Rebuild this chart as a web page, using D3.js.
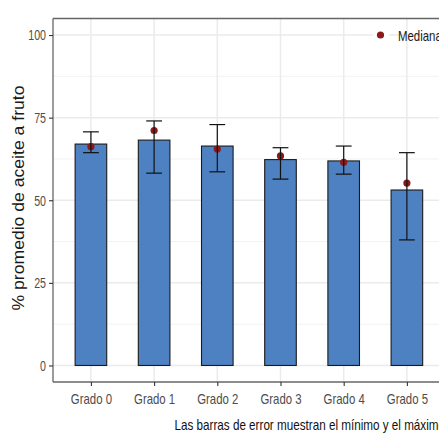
<!DOCTYPE html>
<html><head><meta charset="utf-8">
<script src="https://cdn.jsdelivr.net/npm/d3@7"></script>
<style>body{margin:0;background:#fff}svg{display:block}</style>
</head><body>
<script>
const categories = ["Grado 0","Grado 1","Grado 2","Grado 3","Grado 4","Grado 5"];
const means   = [67.0, 68.2, 66.4, 62.3, 61.9, 53.1];
const mins    = [64.4, 58.2, 58.6, 56.4, 57.9, 38.0];
const maxs    = [70.7, 74.0, 72.9, 65.9, 66.4, 64.4];
const medians = [66.2, 71.1, 65.5, 63.4, 61.5, 55.2];
const yTicks  = [0, 25, 50, 75, 100];
const yMinor  = [12.5, 37.5, 62.5, 87.5];
const legendLabel = "Mediana";
const yTitle = "% promedio de aceite a fruto";
const caption = "Las barras de error muestran el mínimo y el máximo";

const W = 439, H = 435;
const L = 53, R = 444.8, T = 18.5, B = 382;
const sans = "'Liberation Sans',Arial,sans-serif";

const svg = d3.select("body").append("svg").attr("width", W).attr("height", H);

function narrow(sel, f) {
  sel.each(function() {
    const w = this.getComputedTextLength();
    d3.select(this).attr("textLength", w * f).attr("lengthAdjust", "spacingAndGlyphs");
  });
}

const x = d3.scalePoint().domain(categories).range([L, R]).padding(0.6);
const step = x.step();
const y = d3.scaleLinear().domain([-5, 105]).range([B, T]);

const data = categories.map((c, i) => ({c, mean: means[i], min: mins[i], max: maxs[i], med: medians[i]}));

const g = svg.append("g");
g.selectAll(".minor").data(yMinor).join("line")
  .attr("x1", L).attr("x2", R).attr("y1", d => y(d)).attr("y2", d => y(d))
  .attr("stroke", "#f2f2f2").attr("stroke-width", 1);
g.selectAll(".major").data(yTicks).join("line")
  .attr("x1", L).attr("x2", R).attr("y1", d => y(d)).attr("y2", d => y(d))
  .attr("stroke", "#ebebeb").attr("stroke-width", 1.5);
g.selectAll(".vgrid").data(categories).join("line")
  .attr("x1", d => x(d)).attr("x2", d => x(d)).attr("y1", T).attr("y2", B)
  .attr("stroke", "#ebebeb").attr("stroke-width", 1.5);

const bw = step * 0.5;
g.selectAll(".bar").data(data).join("rect")
  .attr("x", d => x(d.c) - bw / 2).attr("width", bw)
  .attr("y", d => y(d.mean)).attr("height", d => y(0) - y(d.mean))
  .attr("fill", "#4e81c1").attr("stroke", "#1a1a1a").attr("stroke-width", 1.1);

g.selectAll(".med").data(data).join("circle")
  .attr("cx", d => x(d.c)).attr("cy", d => y(d.med)).attr("r", 3.6)
  .attr("fill", "#8b1a1a");

const cw = step * 0.25;
const eb = g.selectAll(".eb").data(data).join("g").attr("stroke", "#111").attr("stroke-width", 1.2);
eb.append("line").attr("x1", d => x(d.c)).attr("x2", d => x(d.c)).attr("y1", d => y(d.min)).attr("y2", d => y(d.max));
eb.append("line").attr("x1", d => x(d.c) - cw/2).attr("x2", d => x(d.c) + cw/2).attr("y1", d => y(d.min)).attr("y2", d => y(d.min));
eb.append("line").attr("x1", d => x(d.c) - cw/2).attr("x2", d => x(d.c) + cw/2).attr("y1", d => y(d.max)).attr("y2", d => y(d.max));

svg.append("line").attr("x1", L).attr("x2", W + 10).attr("y1", T).attr("y2", T).attr("stroke", "#666").attr("stroke-width", 1.3);

const yAxis = svg.append("g").attr("transform", `translate(${L},0)`)
  .call(d3.axisLeft(y).tickValues(yTicks).tickSize(4).tickPadding(3));
const xAxis = svg.append("g").attr("transform", `translate(0,${B})`)
  .call(d3.axisBottom(x).tickSize(4).tickPadding(7));
[yAxis, xAxis].forEach(a => {
  a.select(".domain").attr("stroke", "#666").attr("stroke-width", 1.3);
  a.selectAll(".tick line").attr("stroke", "#333").attr("stroke-width", 1.1);
  a.selectAll(".tick text").attr("fill", "#4d4d4d").style("font-family", sans).style("font-size", "15px");
});
yAxis.selectAll(".tick text").call(narrow, 0.71);
xAxis.selectAll(".tick text").call(narrow, 0.76);
yAxis.select(".domain").attr("d", `M0,${T}V${B}`);
xAxis.select(".domain").attr("d", `M${L},0H${W + 10}`);

svg.append("text").attr("transform", `translate(23.5,198) rotate(-90)`)
  .attr("text-anchor", "middle").attr("fill", "#1a1a1a")
  .style("font-family", sans).style("font-size", "16.5px")
  .attr("textLength", 225).attr("lengthAdjust", "spacingAndGlyphs")
  .text(yTitle);

const probe = svg.append("text").style("font-family", sans).style("font-size", "15px")
  .text(caption.slice(0, caption.length - 1));
const partW = probe.node().getComputedTextLength();
probe.remove();
const capF = 264 / partW;
svg.append("text").attr("x", 174.5).attr("y", 430)
  .attr("fill", "#111").style("font-family", sans).style("font-size", "15px")
  .text(caption).call(narrow, capF);

const lg = svg.append("g");
lg.append("rect").attr("x", 373).attr("y", 27).attr("width", 16).attr("height", 16).attr("fill", "#fff");
lg.append("circle").attr("cx", 380.5).attr("cy", 35).attr("r", 3.6).attr("fill", "#8b1a1a");
lg.append("text").attr("x", 398).attr("y", 41).attr("fill", "#1a1a1a")
  .style("font-family", sans).style("font-size", "15px").text(legendLabel).call(narrow, 0.76);
</script>
</body></html>
